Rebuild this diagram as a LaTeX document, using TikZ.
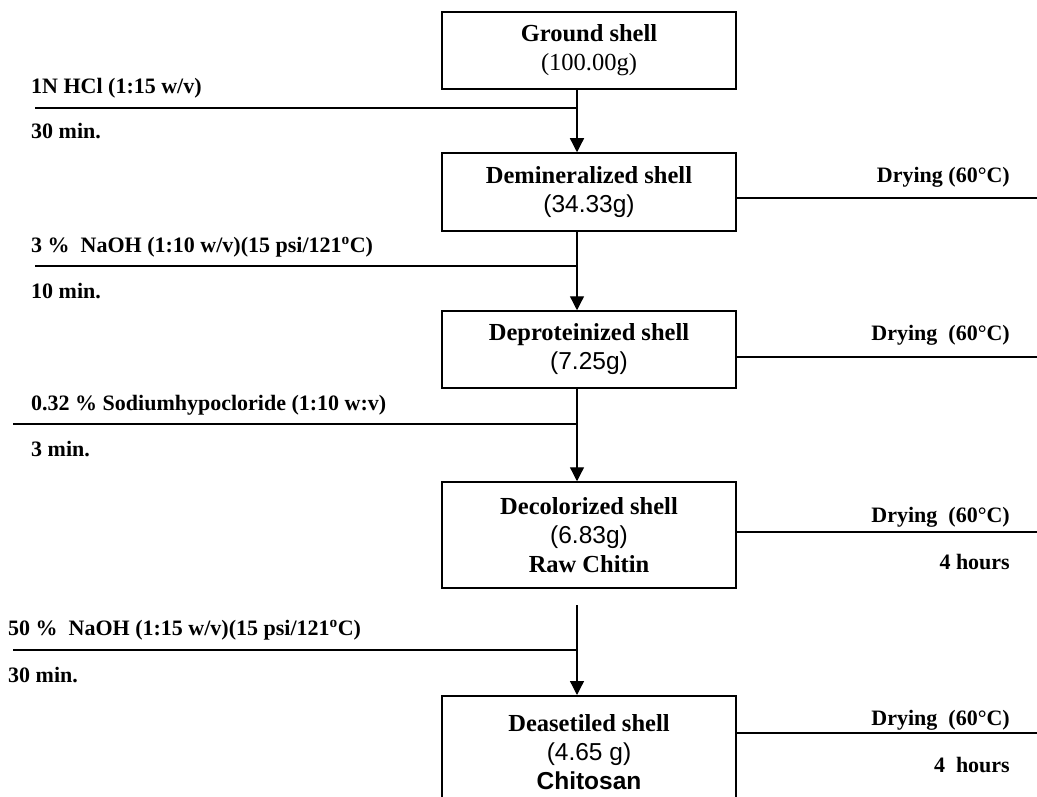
\documentclass[tikz,border=0pt]{standalone}
\usepackage{fontspec}
\setmainfont{Liberation Serif}
\newfontfamily\arialf{Liberation Sans}
\usetikzlibrary{arrows.meta}
\newcommand\boxfnt{\fontsize{24.5}{29}\selectfont}
\newcommand\lblfnt{\fontsize{22}{26}\selectfont\bfseries}
\begin{document}
\begin{tikzpicture}[x=1pt,y=-1pt,
  box/.style={draw, line width=1.5pt, minimum width=294pt, align=center, inner sep=0pt, font=\boxfnt},
  lbl/.style={inner sep=0pt, font=\lblfnt},
  ln/.style={line width=1.3pt},
  arr/.style={line width=1.3pt, -{Triangle[width=14pt,length=14pt]}}]
\useasboundingbox (0,0) rectangle (1037,797);
% boxes
\node[box, minimum height=77pt] (g) at (589,50.5) {\textbf{Ground shell}\\(100.00g)};
\node[box, minimum height=78pt] (d) at (589,192) {\textbf{Demineralized shell}\\{\arialf (34.33g)}};
\node[box, minimum height=77pt] (p) at (589,349.5) {\textbf{Deproteinized shell}\\{\arialf (7.25g)}};
\node[box, minimum height=106pt] (c) at (589,535) {\textbf{Decolorized shell}\\{\arialf (6.83g)}\\\textbf{Raw Chitin}};
\node[box, minimum height=112pt, anchor=north] (s) at (589,695) {\textbf{Deasetiled shell}\\{\arialf (4.65 g)}\\{\arialf\bfseries Chitosan}};
% main arrows
\coordinate (ax) at (577,0);
\coordinate (cs) at (577,605);
\draw[arr] (g.south -| ax) -- (d.north -| ax);
\draw[arr] (d.south -| ax) -- (p.north -| ax);
\draw[arr] (p.south -| ax) -- (c.north -| ax);
\draw[arr] (cs) -- (s.north -| ax);
% input lines
\coordinate (h1) at (35,108);
\coordinate (h2) at (35,266);
\coordinate (h3) at (13,424);
\coordinate (h4) at (13,650);
\draw[ln] (h1) -- (h1 -| ax);
\draw[ln] (h2) -- (h2 -| ax);
\draw[ln] (h3) -- (h3 -| ax);
\draw[ln] (h4) -- (h4 -| ax);
\node[lbl, anchor=west] (h1a) at (31,88) {1N HCl (1:15 w/v)};
\node[lbl, anchor=west] (h1b) at (31,131) {30 min.};
\node[lbl, anchor=west] (h2a) at (31,247) {3 \%\ \ NaOH (1:10 w/v)(15 psi/121\textsuperscript{o}C)};
\node[lbl, anchor=west] (h2b) at (31,291) {10 min.};
\node[lbl, anchor=west] (h3a) at (31,405) {0.32 \% Sodiumhypocloride (1:10 w:v)};
\node[lbl, anchor=west] (h3b) at (31,449) {3 min.};
\node[lbl, anchor=west] (h4a) at (8,630) {50 \%\ \ NaOH (1:15 w/v)(15 psi/121\textsuperscript{o}C)};
\node[lbl, anchor=west] (h4b) at (8,675) {30 min.};
% drying lines
\coordinate (r1) at (1037,198);
\coordinate (r2) at (1037,357);
\coordinate (r3) at (1037,532);
\coordinate (r4) at (1037,733);
\draw[ln] (r1 -| d.east) -- (r1);
\draw[ln] (r2 -| p.east) -- (r2);
\draw[ln] (r3 -| c.east) -- (r3);
\draw[ln] (r4 -| s.east) -- (r4);
\node[lbl, anchor=east] (r1a) at (1010,177) {Drying (60°C)};
\node[lbl, anchor=east] (r2a) at (1010,335) {Drying\ \ (60°C)};
\node[lbl, anchor=east] (r3a) at (1010,517) {Drying\ \ (60°C)};
\node[lbl, anchor=east] (r3b) at (1010,562) {4 hours};
\node[lbl, anchor=east] (r4a) at (1010,720) {Drying\ \ (60°C)};
\node[lbl, anchor=east] (r4b) at (1010,765) {4\ \ hours};
\end{tikzpicture}
\end{document}
